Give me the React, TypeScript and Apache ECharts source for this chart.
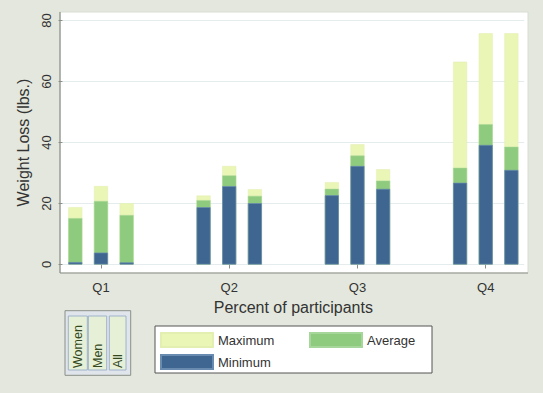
import React, { useEffect, useRef } from "react";
import * as echarts from "echarts";

const quarters = ["Q1", "Q2", "Q3", "Q4"];
const groups = ["Women", "Men", "All"];
// values per quarter, order: Women, Men, All
const minimumValues = [
  [0.8, 3.9, 0.7],
  [18.8, 25.7, 20.1],
  [22.7, 32.3, 24.8],
  [26.8, 39.2, 31.0],
];
const averageValues = [
  [15.2, 20.8, 16.2],
  [21.1, 29.2, 22.5],
  [24.8, 35.7, 27.5],
  [31.7, 46.0, 38.6],
];
const maximumValues = [
  [18.8, 25.7, 20.1],
  [22.6, 32.3, 24.7],
  [27.0, 39.4, 31.2],
  [66.5, 75.8, 75.8],
];
const yTicks = [0, 20, 40, 60, 80];

// 5 slots per quarter: 3 bars + 2 empty gap slots (last quarter has no trailing gap)
const SLOTS_PER_Q = 5;
const slotCount = SLOTS_PER_Q * (quarters.length - 1) + groups.length;
const slotLabels: string[] = [];
for (let i = 0; i < slotCount; i++) {
  const q = Math.floor(i / SLOTS_PER_Q);
  const r = i % SLOTS_PER_Q;
  slotLabels.push(r === 1 ? quarters[q] : "");
}
function toSlots(vals: number[][]): (number | string)[] {
  const out: (number | string)[] = [];
  for (let i = 0; i < slotCount; i++) {
    const q = Math.floor(i / SLOTS_PER_Q);
    const r = i % SLOTS_PER_Q;
    out.push(r < groups.length ? vals[q][r] : "-");
  }
  return out;
}

const FONT = "Liberation Sans, Arial, sans-serif";
const BG = "#e3e7dd";

export default function App() {
  const ref = useRef<HTMLDivElement>(null);
  useEffect(() => {
    if (!ref.current) return;
    const chart = echarts.init(ref.current, undefined, { renderer: "svg" });
    const colX = [68.3, 88.3, 109.3];
    const colW = [19, 18.4, 16.7];
    const graphics: any[] = [
      // plot region background
      {
        type: "rect",
        z: -10,
        shape: { x: 60, y: 12, width: 468, height: 261 },
        style: { fill: "#ffffff", stroke: "#d8ddd3", lineWidth: 1 },
        silent: true,
      },
      {
        type: "line",
        z: 10,
        shape: { x1: 60, y1: 12, x2: 60, y2: 273 },
        style: { stroke: "#8a8f88", lineWidth: 1.2 },
        silent: true,
      },
      {
        type: "line",
        z: 10,
        shape: { x1: 60, y1: 273, x2: 528, y2: 273 },
        style: { stroke: "#8a8f88", lineWidth: 1.2 },
        silent: true,
      },
      // legend box
      {
        type: "rect",
        z: -10,
        shape: { x: 155, y: 326, width: 277, height: 47 },
        style: { fill: "#ffffff", stroke: "#555", lineWidth: 1 },
        silent: true,
      },
      // group key box
      {
        type: "rect",
        shape: { x: 65, y: 310.7, width: 65.7, height: 64.6 },
        style: { fill: "#dfe5ea", stroke: "#8a8f88", lineWidth: 1 },
        silent: true,
      },
    ];
    groups.forEach((g, i) => {
      graphics.push({
        type: "rect",
        shape: { x: colX[i], y: 316, width: colW[i], height: 54 },
        style: { fill: "#e6f0d6", stroke: "#9fb2cc", lineWidth: 1 },
        silent: true,
      });
      graphics.push({
        type: "text",
        x: colX[i] + colW[i] / 2,
        y: 368,
        rotation: Math.PI / 2,
        style: {
          text: g,
          fill: "#34491f",
          font: `12.5px ${FONT}`,
          align: "left",
          verticalAlign: "middle",
        },
        silent: true,
      });
    });

    const barBase = { type: "bar", barWidth: 14, barGap: "-100%" } as const;
    chart.setOption({
      animation: false,
      backgroundColor: BG,
      textStyle: { fontFamily: FONT },
      grid: { left: 62.5, width: 461.7, top: 20.5, bottom: 128.5 },
      graphic: graphics,
      legend: {
        data: ["Maximum", "Average", "Minimum"],
        left: 155,
        top: 326,
        width: 300,
        icon: "rect",
        itemWidth: 52,
        itemHeight: 14,
        itemGap: 6,
        padding: [6, 5, 5, 5],
        textStyle: { color: "#333", fontSize: 13, fontFamily: FONT, width: 85, lineHeight: 14 },
      },
      xAxis: {
        type: "category",
        data: slotLabels,
        offset: 8.5,
        axisLine: { show: false },
        axisTick: {
          show: true,
          alignWithLabel: true,
          length: 4,
          interval: (i: number) => slotLabels[i] !== "",
          lineStyle: { color: "#8a8f88" },
        },
        axisLabel: { interval: 0, color: "#333", fontSize: 13, margin: 8, fontFamily: FONT },
        name: "Percent of participants",
        nameLocation: "middle",
        nameGap: 26,
        nameTextStyle: { color: "#333", fontSize: 16, fontFamily: FONT, verticalAlign: "top" },
      },
      yAxis: {
        type: "value",
        min: 0,
        max: 80,
        interval: 20,
        axisLine: { show: false },
        axisTick: { show: true, length: 4, lineStyle: { color: "#8a8f88" } },
        axisLabel: {
          rotate: 90,
          color: "#333",
          fontSize: 13,
          margin: 10,
          fontFamily: FONT,
          customValues: yTicks,
        },
        splitLine: { show: true, lineStyle: { color: "#e4ecee", width: 1 } },
        name: "Weight Loss (lbs.)",
        nameLocation: "middle",
        nameGap: 28,
        nameTextStyle: { color: "#333", fontSize: 16, fontFamily: FONT },
      },
      series: [
        {
          ...barBase,
          name: "Maximum",
          data: toSlots(maximumValues),
          itemStyle: { color: "#eaf6b6", borderColor: "#e2efb0", borderWidth: 0.5 },
        },
        {
          ...barBase,
          name: "Average",
          data: toSlots(averageValues),
          itemStyle: { color: "#8fcb7e", borderColor: "#a7d69a", borderWidth: 0.5 },
        },
        {
          ...barBase,
          name: "Minimum",
          data: toSlots(minimumValues),
          itemStyle: { color: "#3e6690", borderColor: "#6a8bb0", borderWidth: 0.7 },
        },
      ],
    });
    return () => chart.dispose();
  }, []);
  return (
    <div
      ref={ref}
      style={{ position: "fixed", left: 0, top: 0, width: 543, height: 393 }}
    />
  );
}
